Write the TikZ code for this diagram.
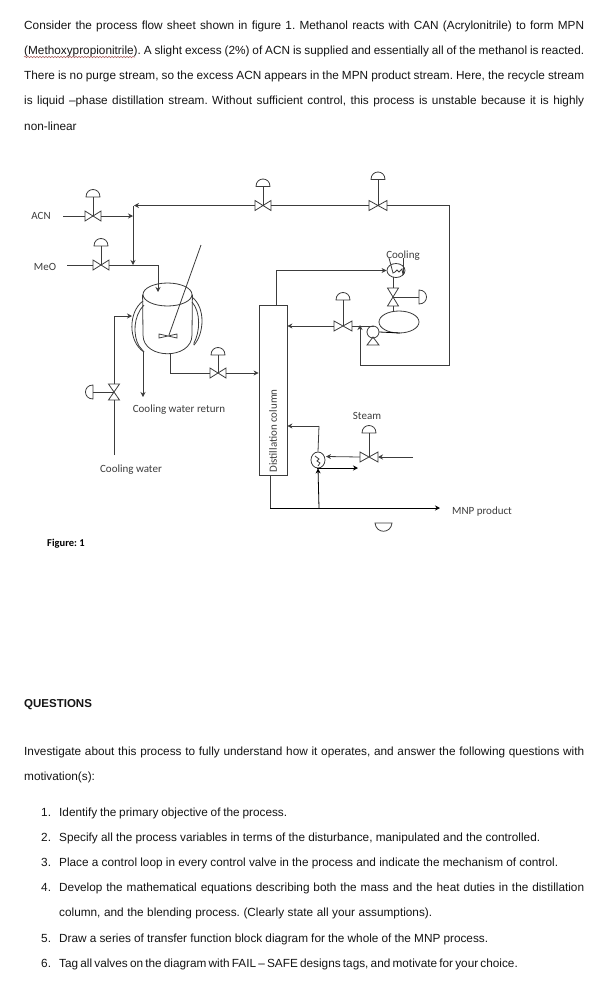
\documentclass[tikz,border=0pt]{standalone}
\usepackage{fontspec}
\setmainfont{Liberation Sans}
\newfontfamily\labelfont{Carlito}
\usepackage{xcolor}
\definecolor{pfdline}{RGB}{60,60,60}
\definecolor{pfdlabel}{RGB}{60,60,60}
\definecolor{bodytext}{RGB}{20,20,20}
\definecolor{squiggle}{RGB}{170,95,95}
\usetikzlibrary{arrows.meta, positioning, shapes.geometric, calc, decorations.pathmorphing}
\newcommand{\fullline}[2]{\makebox[#1][s]{#2}}
\frenchspacing
\tikzset{
  pipe/.style={pfdline, line width=0.8pt},
  flow/.style={pipe, -{Stealth[length=5pt,width=5pt]}},
  bodyline/.style={anchor=base west, inner sep=0pt, text=bodytext, font=\fontsize{11.8}{14}\selectfont},
  pfdtext/.style={inner sep=0pt, text=pfdlabel, font=\labelfont\fontsize{11}{12}\selectfont},
  pics/valve/.style args={#1/#2/#3}{code={
    \draw[pipe] (-#1,-#3) -- (#1,#3) -- (#1,-#3) -- (-#1,#3) -- cycle;
    \draw[pipe] (0,0) -- (0,-#2);
    \draw[pipe] (-7,-#2) .. controls (-7,-#2-10) and (7,-#2-10) .. (7,-#2) -- cycle;
    \coordinate (-w) at (-#1,0);
    \coordinate (-e) at (#1,0);
  }}
}
\begin{document}
\begin{tikzpicture}[x=1pt, y=-1pt]
\useasboundingbox (0,0) rectangle (592,991);

% === Top paragraph ===
\node[bodyline] (parone) at (24,29) {\fullline{560pt}{Consider the process flow sheet shown in figure 1. Methanol reacts with CAN (Acrylonitrile) to form MPN}};
\node[bodyline] (partwo) at (24,54) {\fullline{560pt}{(Methoxypropionitrile). A slight excess (2\%) of ACN is supplied and essentially all of the methanol is reacted.}};
\node[bodyline] (parthree) at (24,79) {\fullline{560pt}{There is no purge stream, so the excess ACN appears in the MPN product stream. Here, the recycle stream}};
\node[bodyline] (parfour) at (24,104) {\fullline{560pt}{is liquid --phase distillation stream. Without sufficient control, this process is unstable because it is highly}};
\node[bodyline] (parfive) at (24,130) {non-linear};
\draw[squiggle, line width=0.5pt, decorate, decoration={snake, amplitude=0.8pt, segment length=3pt}] (24,57) -- (135,57);

% === Feeds ===
\node[pfdtext] (acn) at (41,216) {ACN};
\node[pfdtext] (meo) at (45,267) {MeO};
\coordinate (acnin) at (63,216);
\coordinate (meoin) at (67,265);
\coordinate (acnjoin) at (133,216);
\coordinate (meojoin) at (133,265);
\coordinate (meoelbow) at (158,265);
\coordinate (vesselin) at (158,292);
\pic (acnvalve) at (93,216) {valve=8/19/5};
\pic (meovalve) at (101,265) {valve=8/19/5};
\draw[pipe] (acnin) -- (acnvalve-w);
\draw[flow] (acnvalve-e) -- (acnjoin);
\draw[pipe] (meoin) -- (meovalve-w);
\draw[pipe] (meovalve-e) -- (meoelbow);
\draw[flow] (meoelbow) -- (vesselin);

% === Recycle ===
\coordinate (recyclecorner) at (133,205.5);
\coordinate (recyclejoin) at (134,205.5);
\coordinate (recyclene) at (449,205.5);
\coordinate (recyclese) at (449,365);
\coordinate (recyclesw) at (360,365);
\coordinate (recycletee) at (360,325);
\pic (recvalvea) at (263,205.5) {valve=8/19/5};
\pic (recvalveb) at (378,205.5) {valve=9/26/5};
\draw[flow] (recvalvea-w) -- (recyclejoin);
\draw[pipe] (recvalveb-w) -- (recvalvea-e);
\draw[pipe] (recvalveb-e) -- (recyclene) -- (recyclese) -- (recyclesw);
\draw[flow] (recyclesw) -- (recycletee);
\draw[flow] (recyclecorner) -- (meojoin);

% === Reactor ===
\node[draw=pfdline, line width=0.8pt, ellipse, minimum width=49pt, minimum height=23pt, inner sep=0pt] (vesseltop) at (167.5,294.5) {};
\coordinate (vesselbl) at (143,335);
\coordinate (vesselbr) at (192,335);
\draw[pipe] (vesseltop.west) -- (vesselbl) .. controls (143,360) and (192,360) .. (vesselbr) -- (vesseltop.east);
% jacket
\draw[pipe] (143,301) .. controls (128,312) and (128,342) .. (144,352);
\draw[pipe] (144,305) .. controls (133,316) and (133,336) .. (139,346) -- (144,352);
\draw[pipe] (192,297) .. controls (206,308) and (204,334) .. (194,345);
\draw[pipe] (192,302) .. controls (201,312) and (200,332) .. (194,343) -- (194,345);
% agitator
\coordinate (shafttop) at (201,245);
\coordinate (shaftend) at (169,335);
\draw[pipe] (shafttop) -- (shaftend);
\draw[pipe] (159,334) -- (168,336) -- (177,334) -- (177,338) -- (168,336) -- (159,338) -- cycle;

% === Reactor cooling ===
\coordinate (cwin) at (114,455);
\coordinate (jacketelbow) at (114,316);
\coordinate (jacketin) at (132,316);
\coordinate (cwoutstart) at (143,352);
\coordinate (cwout) at (143,397);
\pic[rotate=90] (cwvalve) at (114,392) {valve=8/21/5.5};
\draw[pipe] (cwin) -- (cwvalve-w);
\draw[pipe] (cwvalve-e) -- (jacketelbow);
\draw[flow] (jacketelbow) -- (jacketin);
\draw[flow] (cwoutstart) -- (cwout);
\node[pfdtext] (cwretlabel) at (179,409.5) {Cooling water return};
\node[pfdtext] (cwlabel) at (131,469.5) {Cooling water};

% === Distillation column ===
\node[draw=pfdline, line width=0.8pt, minimum width=28pt, minimum height=170pt, inner sep=0pt] (column) at (273,390) {};
\node[pfdtext, rotate=90] (columnlabel) at (273,431) {Distillation column};
\coordinate (reactorout) at (170,354);
\coordinate (feedelbow) at (170,373);
\pic (feedvalve) at (218,373) {valve=8/18/5};
\draw[pipe] (reactorout) -- (feedelbow) -- (feedvalve-w);
\draw[flow] (feedvalve-e) -- (feedvalve-e -| column.west);

% === Overhead ===
\coordinate (overheadtop) at (276,270.5);
\node[draw=pfdline, line width=0.8pt, ellipse, minimum width=18pt, minimum height=14pt, inner sep=0pt] (condenser) at (396,270.5) {};
\node[pfdtext] (coolinglabel) at (403,256) {Cooling};
\draw[pipe] (276,305) -- (overheadtop);
\draw[flow] (overheadtop) -- (condenser.west);
\draw[pipe] (389,258) -- (393,273) -- (395,272) -- (397,270) -- (399,272) -- (402,269) -- (403,275);
\draw[pipe] (403,258) -- (403,275);
\pic[rotate=-90] (condvalve) at (393,297) {valve=9/26/5.5};
\node[draw=pfdline, line width=0.8pt, ellipse, minimum width=40pt, minimum height=22pt, inner sep=0pt] (drum) at (399,322) {};
\draw[pipe] (393,277) -- (condvalve-w);
\draw[pipe] (condvalve-e) -- (393,311);

% === Reflux ===
\node[draw=pfdline, line width=0.8pt, circle, minimum size=12pt, inner sep=0pt] (pump) at (373,332) {};
\coordinate (pumpbasel) at (367,345);
\coordinate (pumpbaser) at (379,345);
\coordinate (pumpapex) at (373,337);
\draw[pipe] (pumpbasel) -- (pumpapex) -- (pumpbaser) -- cycle;
\coordinate (pumpin) at (400,333);
\draw[pipe, black] (pump.east) -- (pumpin);
\pic (refluxvalve) at (343,326) {valve=9/26/5};
\draw[pipe] (pump.north) -- (373,326) -- (refluxvalve-e);
\draw[flow] (refluxvalve-w) -- (refluxvalve-w -| column.east);

% === Reboiler ===
\node[draw=pfdline, line width=0.8pt, ellipse, minimum width=14pt, minimum height=16pt, inner sep=0pt] (reboiler) at (318,460) {};
\draw[pipe] (315,456) -- (319,459) -- (317,461) -- (320,463) -- (318,466);
\coordinate (boilupelbow) at (319,426);
\draw[pipe] (reboiler.north) -- (boilupelbow);
\draw[flow] (boilupelbow) -- (boilupelbow -| column.east);
\coordinate (steamin) at (413,457);
\coordinate (steamout) at (326,456.5);
\pic (steamvalve) at (369,457) {valve=9/24/5};
\draw[flow] (steamin) -- (steamvalve-e);
\draw[flow] (steamvalve-w) -- (steamout);
\coordinate (condensateout) at (358,468);
\draw[flow, black] (317,468) -- (condensateout);
\node[pfdtext] (steamlabel) at (367,416) {Steam};

% === Bottoms ===
\coordinate (bottomsdown) at (270,508);
\coordinate (bottomstee) at (319,508);
\coordinate (mnpout) at (440,508);
\draw[pipe] (column.south -| bottomsdown) -- (bottomsdown);
\draw[flow, black] (bottomsdown) -- (mnpout);
\draw[flow, black] (bottomstee) -- (reboiler.south);
\node[pfdtext] (mnplabel) at (482,512) {MNP product};
\draw[pipe] (375,523) -- (392,523) .. controls (391,534) and (376,534) .. (375,523) -- cycle;

% === Figure caption ===
\node[inner sep=0pt, text=black, font=\labelfont\bfseries\fontsize{10.5}{12}\selectfont] (figlabel) at (66,543.5) {Figure: 1};

% === Questions ===
\node[bodyline, font=\bfseries\fontsize{11.5}{14}\selectfont] (qhead) at (24,707) {QUESTIONS};
\node[bodyline] (intro) at (24,755) {\fullline{560pt}{Investigate about this process to fully understand how it operates, and answer the following questions with}};
\node[bodyline] (introtwo) at (24,780) {motivation(s):};
\node[bodyline] (qone) at (41,816) {\makebox[18pt][l]{1.}\fullline{228pt}{Identify the primary objective of the process.}};
\node[bodyline] (qtwo) at (41,841) {\makebox[18pt][l]{2.}\fullline{481pt}{Specify all the process variables in terms of the disturbance, manipulated and the controlled.}};
\node[bodyline] (qthree) at (41,866) {\makebox[18pt][l]{3.}\fullline{499pt}{Place a control loop in every control valve in the process and indicate the mechanism of control.}};
\node[bodyline] (qfour) at (41,891) {\makebox[18pt][l]{4.}\fullline{525pt}{Develop the mathematical equations describing both the mass and the heat duties in the distillation}};
\node[bodyline] (qfourb) at (59,916) {\fullline{373pt}{column, and the blending process. (Clearly state all your assumptions).}};
\node[bodyline] (qfive) at (41,942) {\makebox[18pt][l]{5.}\fullline{429pt}{Draw a series of transfer function block diagram for the whole of the MNP process.}};
\node[bodyline] (qsix) at (41,967) {\makebox[18pt][l]{6.}\fullline{448pt}{Tag all valves on the diagram with FAIL -- SAFE designs tags, and motivate for your choice.}};

\end{tikzpicture}
\end{document}
